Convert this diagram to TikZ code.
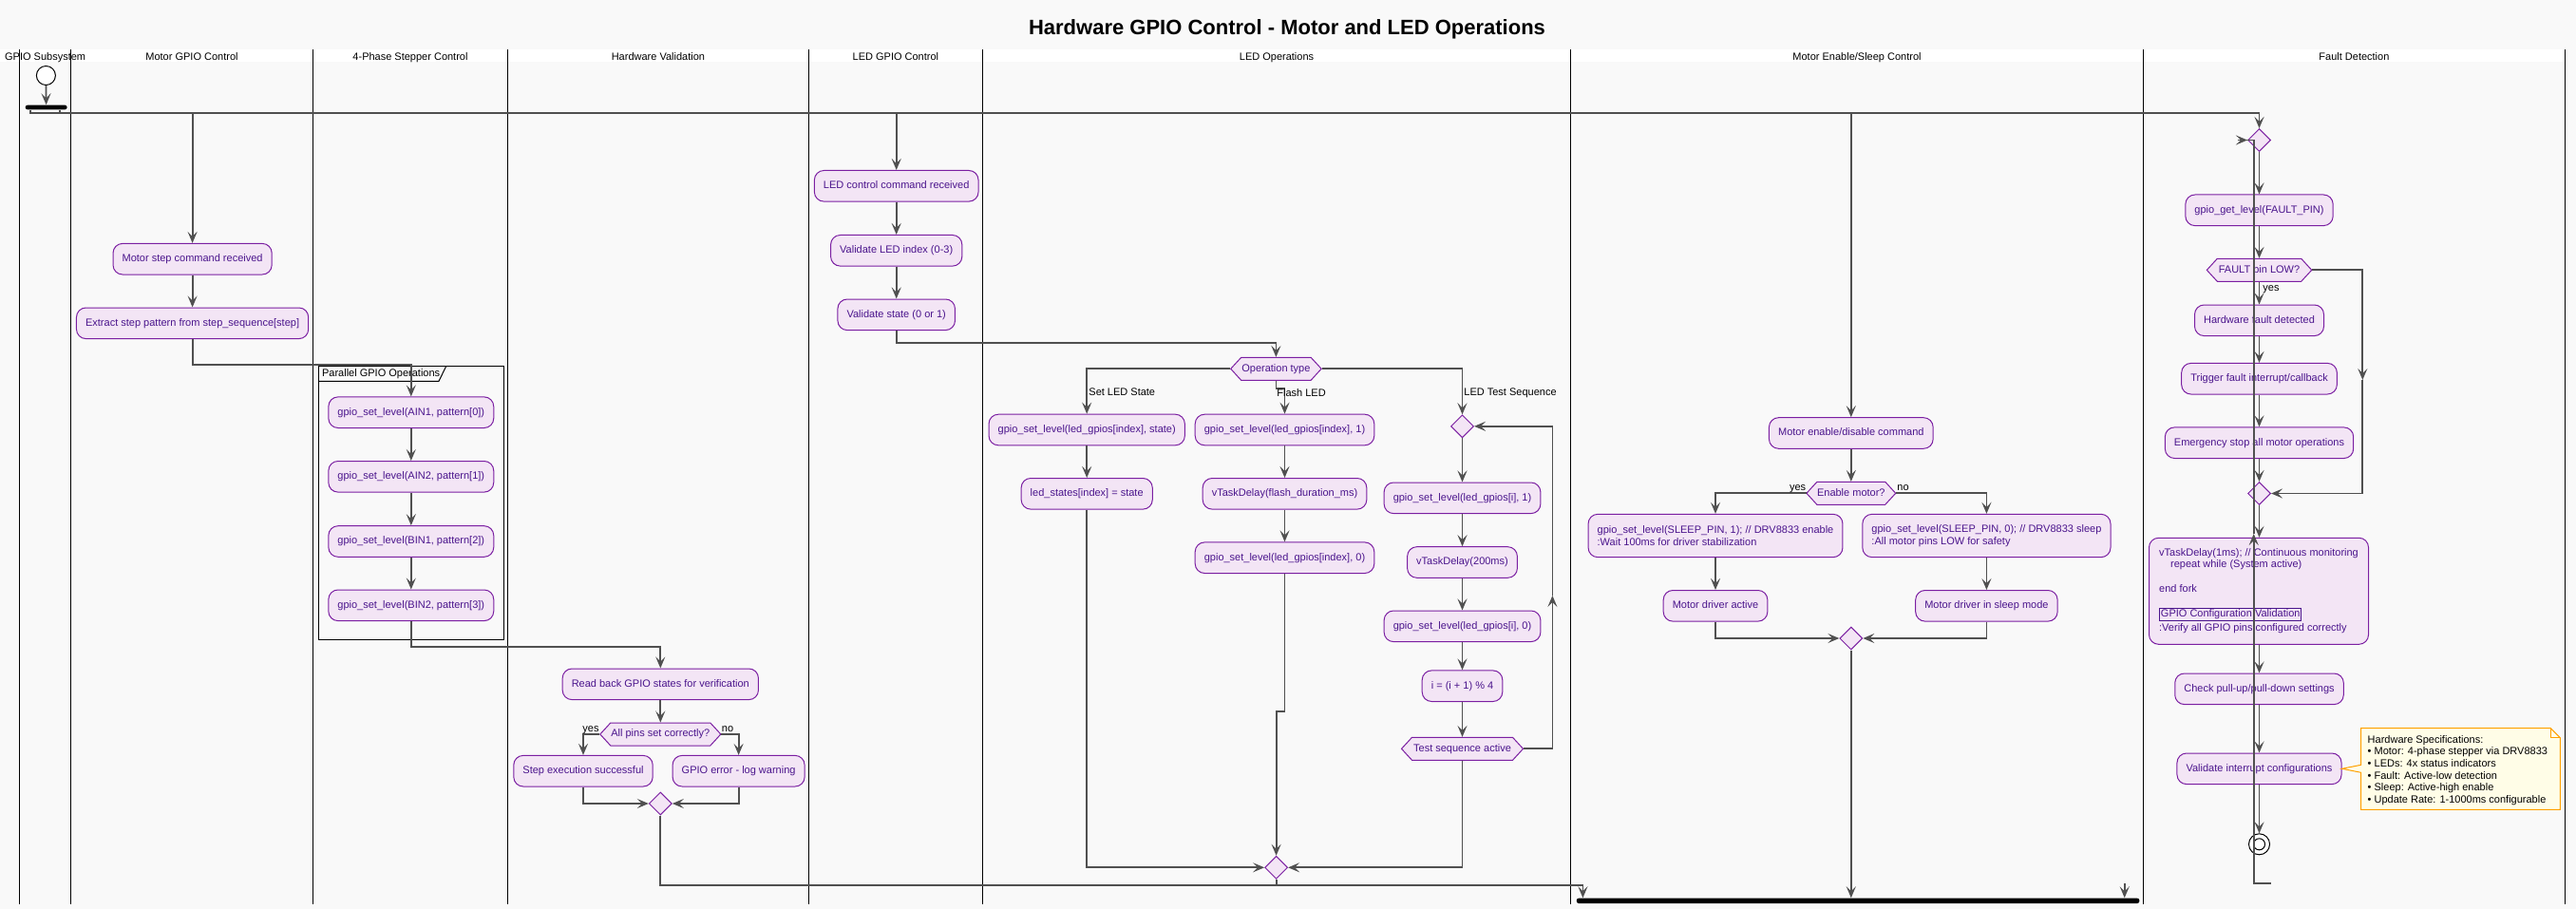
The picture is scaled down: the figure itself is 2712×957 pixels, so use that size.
\documentclass[tikz,border=0pt]{standalone}
\usepackage{fontspec}
\setmainfont{Liberation Sans}
\usetikzlibrary{arrows.meta,shapes.geometric,calc}
\definecolor{bgcol}{HTML}{F9F9F9}
\definecolor{actfill}{HTML}{F3E5F5}
\definecolor{actborder}{HTML}{7B1FA2}
\definecolor{acttext}{HTML}{4A148C}
\definecolor{linecol}{HTML}{505050}
\definecolor{notefill}{HTML}{FFFDE7}
\definecolor{noteborder}{HTML}{FFA000}
\newcommand{\actfont}{\fontsize{5.5pt}{6.3pt}\selectfont}
\newcommand{\mkhex}[5]{%
  \filldraw[hexfr] ({#2-#4},#3) -- ({#2-#4+11},{#3-12}) -- ({#2+#4-11},{#3-12}) -- ({#2+#4},#3) -- ({#2+#4-11},{#3+12}) -- ({#2-#4+11},{#3+12}) -- cycle;
  \node[hexlbl, minimum width={#4*1pt}] (#1) at (#2,#3) {#5};}
\tikzset{
  actbase/.style={rectangle, rounded corners=5pt, draw=actborder, fill=actfill, text=acttext, font=\actfont, line width=0.5pt, inner xsep=4.8pt, inner ysep=0pt, minimum height=16.3pt},
  act/.style={actbase, text height=4.1pt, text depth=1.2pt},
  actml/.style={actbase, align=left, font=\fontsize{5.5pt}{6.5pt}\selectfont},
  hexfr/.style={draw=actborder, fill=actfill, line width=0.5pt},
  hexlbl/.style={rectangle, inner sep=0pt, minimum height=12pt, text=acttext, font=\actfont, text height=4.1pt, text depth=1.2pt},
  dia/.style={diamond, draw=actborder, fill=actfill, line width=0.5pt, minimum width=12pt, minimum height=12pt, inner sep=0pt},
  flow/.style={draw=linecol, line width=0.9pt, -{Stealth[length=6pt,width=5pt,inset=2.5pt]}},
  flowline/.style={draw=linecol, line width=0.9pt},
  lbl/.style={font=\actfont, text=black, inner sep=0pt},
  hdr/.style={anchor=base, font=\actfont, text=black, inner sep=0pt},
  lane/.style={draw=black, line width=0.5pt},
  bar/.style={rectangle, fill=black, rounded corners=1.1pt, inner sep=0pt},
}
\begin{document}
\begin{tikzpicture}[x=0.5pt,y=-0.5pt]
\useasboundingbox (0,0) rectangle (2712,957);
\fill[bgcol] (0,0) rectangle (2712,957);
\fill[white] (0,52) rectangle (2700.3,65);
\foreach \lx in {20.7,74.6,329.5,534.4,851.3,1034.4,1653.6,2256.4,2700.3}
  \draw[lane] (\lx,52) -- (\lx,951.7);

% title and lane headers
\node[anchor=base, inner sep=0pt, font=\fontsize{11pt}{13pt}\selectfont\bfseries] (title) at (1355,36.7) {Hardware GPIO Control - Motor and LED Operations};
\node[hdr] (h0) at (47.65,63.3) {GPIO Subsystem};
\node[hdr] (h1) at (202,63.3) {Motor GPIO Control};
\node[hdr] (h2) at (432,63.3) {4-Phase Stepper Control};
\node[hdr] (h3) at (692.9,63.3) {Hardware Validation};
\node[hdr] (h4) at (942.9,63.3) {LED GPIO Control};
\node[hdr] (h5) at (1344,63.3) {LED Operations};
\node[hdr] (h6) at (1955,63.3) {Motor Enable/Sleep Control};
\node[hdr] (h7) at (2478.4,63.3) {Fault Detection};

% start and fork
\node[circle, draw=black, fill=white, line width=0.5pt, minimum size=10pt, inner sep=0pt] (start) at (48.4,79.5) {};
\node[bar, minimum width=21.95pt, minimum height=2.3pt] (forkbar) at (48.65,113) {};
\node[bar, minimum width=296.25pt, minimum height=2.65pt] (joinbar) at (1956.05,948.35) {};

% group box
\draw[black, line width=0.5pt] (335.2,385.7) rectangle (530.4,673.3);
\draw[black, line width=0.5pt] (335.2,401.3) -- (462,401.3) -- (469.6,385.7);
\node[lbl, anchor=base west] (grp) at (338.7,396.7) {Parallel GPIO Operations};

% Motor GPIO Control
\node[act] (motorcmd) at (202.6,272.7) {Motor step command received};
\node[act] (extract) at (202.6,340.3) {Extract step pattern from step\_sequence[step]};
% stepper
\node[act] (ain1) at (432.8,434.2) {gpio\_set\_level(AIN1, pattern[0])};
\node[act] (ain2) at (432.8,501.8) {gpio\_set\_level(AIN2, pattern[1])};
\node[act] (bin1) at (432.8,570) {gpio\_set\_level(BIN1, pattern[2])};
\node[act] (bin2) at (432.8,637.3) {gpio\_set\_level(BIN2, pattern[3])};
% hardware validation
\node[act] (readback) at (695.3,720.3) {Read back GPIO states for verification};
\mkhex{allpins}{695.3}{773}{63.5}{All pins set correctly?}
\node[act] (stepok) at (614,811.7) {Step execution successful};
\node[act] (gpioerr) at (777.6,811.7) {GPIO error - log warning};
\node[dia] (hwmerge) at (695.3,846) {};
% LED GPIO control
\node[act] (ledcmd) at (943.7,195.8) {LED control command received};
\node[act] (validx) at (943.7,263.8) {Validate LED index (0-3)};
\node[act] (valstate) at (943.7,331.3) {Validate state (0 or 1)};
% LED operations
\mkhex{optype}{1343.4}{388.3}{47.7}{Operation type}
\node[act] (setled) at (1144.2,452.5) {gpio\_set\_level(led\_gpios[index], state)};
\node[act] (ledstates) at (1144.2,519.8) {led\_states[index] = state};
\node[act] (flash1) at (1352.5,452.5) {gpio\_set\_level(led\_gpios[index], 1)};
\node[act] (flashdelay) at (1352.5,519.8) {vTaskDelay(flash\_duration\_ms)};
\node[act] (flash0) at (1352.5,587.2) {gpio\_set\_level(led\_gpios[index], 0)};
\node[dia] (testdia) at (1539.5,448.8) {};
\node[act] (test1) at (1539.5,524.3) {gpio\_set\_level(led\_gpios[i], 1)};
\node[act] (delay200) at (1539.5,592) {vTaskDelay(200ms)};
\node[act] (test0) at (1539.5,659.3) {gpio\_set\_level(led\_gpios[i], 0)};
\node[act] (incr) at (1539.5,722.2) {i = (i + 1) \% 4};
\mkhex{testact}{1539.5}{788.3}{64}{Test sequence active}
\node[dia] (ledmerge) at (1343.6,913.3) {};
% motor enable
\node[act] (motoren) at (1948.8,456) {Motor enable/disable command};
\mkhex{enhex}{1948.8}{519.3}{46.9}{Enable motor?}
\node[actml, minimum height=22.65pt] (enable) at (1806,564) {gpio\_set\_level(SLEEP\_PIN, 1); // DRV8833 enable\\:Wait 100ms for driver stabilization};
\node[actml, minimum height=22.65pt] (sleep) at (2091.4,564) {gpio\_set\_level(SLEEP\_PIN, 0); // DRV8833 sleep\\:All motor pins LOW for safety};
\node[act] (drvactive) at (1806,637.8) {Motor driver active};
\node[act] (drvsleep) at (2091.4,637.8) {Motor driver in sleep mode};
\node[dia] (enmerge) at (1948.8,672) {};
% fault detection
\node[dia] (faulttop) at (2378.5,147.5) {};
\node[act] (getlevel) at (2378.5,221.3) {gpio\_get\_level(FAULT\_PIN)};
\mkhex{faulthex}{2378.5}{284.3}{55.2}{FAULT pin LOW?}
\node[act] (hwfault) at (2378.5,337.3) {Hardware fault detected};
\node[act] (trigger) at (2378.5,398.7) {Trigger fault interrupt/callback};
\node[act] (estop) at (2378.5,466.2) {Emergency stop all motor operations};
\node[dia] (faultmerge) at (2378.5,519.5) {};
\node[actml, font=\fontsize{5.5pt}{6.2pt}\selectfont, minimum width=115.5pt, minimum height=56pt] (bigbox) at (2378,622.3) {vTaskDelay(1ms); // Continuous monitoring\\
\hspace*{6pt}repeat while (System active)\\[6.5pt]
end fork\\[7.2pt]
{\setlength{\fboxsep}{0.4pt}\setlength{\fboxrule}{0.5pt}\fcolorbox{acttext}{actfill}{GPIO Configuration Validation}}\\[1.3pt]
:Verify all GPIO pins configured correctly};
\node[act] (pullup) at (2378.5,725.3) {Check pull-up/pull-down settings};
\node[act] (validint) at (2378.5,809.3) {Validate interrupt configurations};
\node[circle, draw=black, fill=white, line width=0.5pt, minimum size=11pt, inner sep=0pt] (endnode) at (2378.5,888.8) {};
\node[circle, draw=black, line width=0.5pt, minimum size=6pt, inner sep=0pt] (endinner) at (endnode) {};

% note
\filldraw[draw=noteborder, fill=notefill, line width=0.5pt] (2485.7,766.7) -- (2685.3,766.7) -- (2695.3,776.7) -- (2695.3,852.3) -- (2485.7,852.3) -- (2485.7,813.3) -- (validint.east) -- (2485.7,805.3) -- cycle;
\draw[noteborder, line width=0.5pt] (2685.3,766.7) -- (2685.3,776.7) -- (2695.3,776.7);
\node[anchor=north west, align=left, inner sep=0pt, font=\fontsize{5.5pt}{6.3pt}\selectfont, text=black] (notetext) at (2492.3,774) {Hardware Specifications:\\• Motor: 4-phase stepper via DRV8833\\• LEDs: 4x status indicators\\• Fault: Active-low detection\\• Sleep: Active-high enable\\• Update Rate: 1-1000ms configurable};

% ---------- connectors ----------
\coordinate (fl) at (0,119.3);
\coordinate (bl) at (0,931.7);
\draw[flow] (start.south) -- (forkbar.north);
\draw[flow] ([xshift=3pt]forkbar.south west) |- (faulttop.north |- fl) -- (faulttop.north);
\coordinate (fk2) at ([xshift=-4pt]forkbar.south east);
\draw[flowline] (fk2) -- (fk2 |- fl);
\draw[flow] (motorcmd.north |- fl) -- (motorcmd.north);
\draw[flow] (ledcmd.north |- fl) -- (ledcmd.north);
\draw[flow] (motoren.north |- fl) -- (motoren.north);

\draw[flow] (motorcmd.south) -- (extract.north);
\draw[flow] (extract.south) |- (432.8,384) -- (ain1.north);
\draw[flow] (ain1.south) -- (ain2.north);
\draw[flow] (ain2.south) -- (bin1.north);
\draw[flow] (bin1.south) -- (bin2.north);
\draw[flow] (bin2.south) |- (695.3,681) -- (readback.north);
\draw[flow] (readback.south) -- (allpins.north);
\draw[flow] (allpins.west) -| (stepok.north);
\draw[flow] (allpins.east) -| (gpioerr.north);
\node[lbl, anchor=base east] (yes1) at (631,770.3) {yes};
\node[lbl, anchor=base west] (no1) at (759.5,770.3) {no};
\draw[flow] (stepok.south) |- (hwmerge.west);
\draw[flow] (gpioerr.south) |- (hwmerge.east);
\coordinate (jn1) at ([xshift=3.5pt]joinbar.north west);
\draw[flow] (hwmerge.south) |- (jn1 |- bl) -- (jn1);

\draw[flow] (ledcmd.south) -- (validx.north);
\draw[flow] (validx.south) -- (valstate.north);
\draw[flow] (valstate.south) |- (1343.4,361) -- (optype.north);
\draw[flow] (optype.west) -| (setled.north);
\draw[flow] (optype.south) |- (1352.5,409.3) -- (flash1.north);
\draw[flow] (optype.east) -| (testdia.north);
\node[lbl, anchor=base west] (lset) at (1146,416) {Set LED State};
\node[lbl, anchor=base west] (lflash) at (1344,417) {Flash LED};
\node[lbl, anchor=base west] (ltest) at (1541,416) {LED Test Sequence};
\draw[flow] (setled.south) -- (ledstates.north);
\draw[flow] (ledstates.south) |- (ledmerge.west);
\draw[flow] (flash1.south) -- (flashdelay.north);
\draw[flow] (flashdelay.south) -- (flash0.north);
\draw[flow] (flash0.south) |- (1343.6,749) -- (ledmerge.north);
\draw[flow] (testdia.south) -- (test1.north);
\draw[flow] (test1.south) -- (delay200.north);
\draw[flow] (delay200.south) -- (test0.north);
\draw[flow] (test0.south) -- (incr.north);
\draw[flow] (incr.south) -- (testact.north);
\coordinate (lp) at (1634.4,627);
\draw[flow] (testact.east) -| (lp);
\draw[flow] (lp) |- (testdia.east);
\draw[flow] (testact.south) |- (ledmerge.east);
\draw[flowline] (ledmerge.south) -- (ledmerge.south |- bl);

\draw[flow] (motoren.south) -- (enhex.north);
\draw[flow] (enhex.west) -| (enable.north);
\draw[flow] (enhex.east) -| (sleep.north);
\node[lbl, anchor=base east] (yes2) at (1901.5,516) {yes};
\node[lbl, anchor=base west] (no2) at (1997,516) {no};
\draw[flow] (enable.south) -- (drvactive.north);
\draw[flow] (sleep.south) -- (drvsleep.north);
\draw[flow] (drvactive.south) |- (enmerge.west);
\draw[flow] (drvsleep.south) |- (enmerge.east);
\draw[flow] (enmerge.south) -- (enmerge.south |- joinbar.north);
\coordinate (stub) at (2236.7,930);
\draw[flow] (stub) -- (stub |- joinbar.north);

\draw[flow] (faulttop.south) -- (getlevel.north);
\draw[flow] (getlevel.south) -- (faulthex.north);
\draw[flow] (faulthex.south) -- (hwfault.north);
\node[lbl, anchor=base west] (yes3) at (2382,306) {yes};
\draw[flow] (hwfault.south) -- (trigger.north);
\draw[flow] (trigger.south) -- (estop.north);
\draw[flow] (estop.south) -- (faultmerge.north);
\coordinate (fn) at (2487.3,400);
\draw[flow] (faulthex.east) -| (fn);
\draw[flow] (fn) |- (faultmerge.east);
\draw[flow] (faultmerge.south) -- (faultmerge.south |- bigbox.north);
\draw[flow] (pullup.north |- bigbox.south) -- (pullup.north);
\draw[flow] (pullup.south) -- (validint.north);
\draw[flow] (validint.south) -- (endnode.north);
\coordinate (la) at (2390.7,930.3);
\coordinate (lb) at (2372.7,930.3);
\coordinate (lc) at (2372.7,562);
\coordinate (ld) at (2372.7,147.5);
\coordinate (le) at (2355.7,147.5);
\draw[flow] (la) -- (lb) -- (lc);
\draw[flowline] (lc) -- (ld) -- (le);
\draw[flow] (le) -- (faulttop.west);
\end{tikzpicture}
\end{document}
